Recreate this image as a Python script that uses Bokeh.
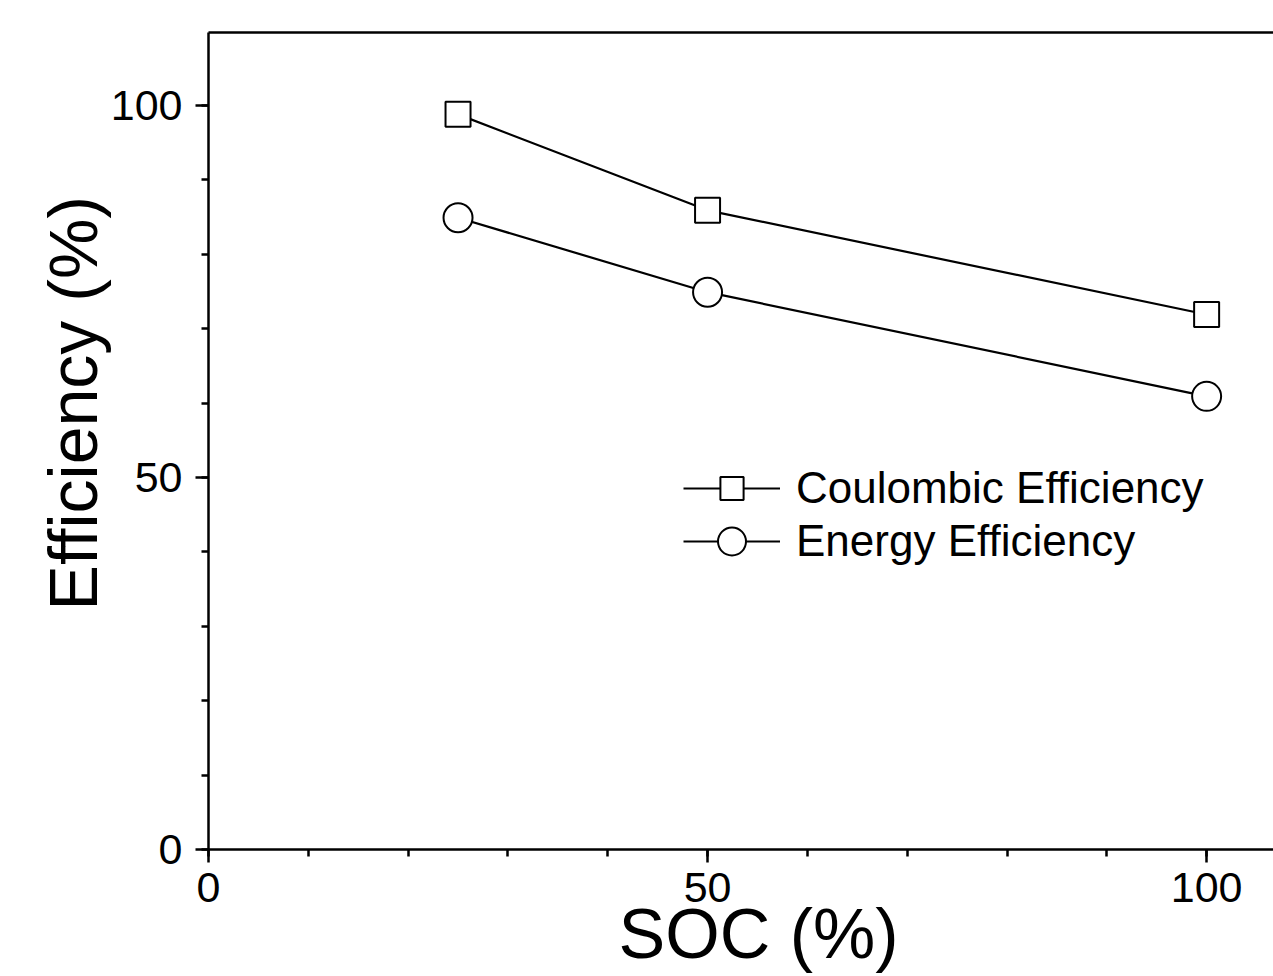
from bokeh.plotting import figure
from bokeh.models import Range1d, SingleIntervalTicker, FixedTicker, LinearAxis, Legend, LegendItem
from bokeh.embed import file_html
from bokeh.resources import INLINE

# ---- data ----
soc = [25, 50, 100]
coulombic = [98.8, 85.9, 71.9]
energy = [84.9, 74.9, 60.9]
series_names = ["Coulombic Efficiency", "Energy Efficiency"]
x_label = "SOC (%)"
y_label = "Efficiency (%)"
x_limits = (0, 106.7)
y_limits = (0, 109.8)
tick_interval = 50
minor_per_major = 5

FONT = "Liberation Sans"
NB = "\u00a0"

p = figure(width=1273, height=976, output_backend="svg", toolbar_location=None,
           x_range=Range1d(*x_limits), y_range=Range1d(*y_limits),
           min_border_left=208, min_border_right=0, min_border_top=32,
           min_border_bottom=127, outline_line_color=None,
           background_fill_color="white", border_fill_color="white")

p.xgrid.visible = False
p.ygrid.visible = False

for ax in (p.xaxis[0], p.yaxis[0]):
    ax.ticker = SingleIntervalTicker(interval=tick_interval, num_minor_ticks=minor_per_major)
    ax.axis_line_width = 2.5
    ax.axis_line_color = "black"
    ax.major_tick_line_width = 2.5
    ax.minor_tick_line_width = 2.5
    ax.major_tick_out = 13
    ax.major_tick_in = 0
    ax.minor_tick_out = 7
    ax.minor_tick_in = 0
    ax.major_label_text_font = FONT
    ax.major_label_text_font_size = "43px"
    ax.major_label_text_color = "black"
    ax.axis_label_text_font = FONT
    ax.axis_label_text_font_style = "normal"
    ax.axis_label_text_color = "black"

p.xaxis[0].major_label_standoff = 10
p.yaxis[0].major_label_standoff = 13

p.xaxis[0].axis_label = "\u2002" + x_label
p.xaxis[0].axis_label_text_font_size = "70px"
p.xaxis[0].axis_label_standoff = -10

p.yaxis[0].axis_label = NB * 4 + y_label
p.yaxis[0].axis_label_text_font_size = "68px"
p.yaxis[0].axis_label_standoff = -3

top = LinearAxis(ticker=FixedTicker(ticks=[]), axis_line_width=2.5, axis_line_color="black",
                 major_tick_out=0, major_tick_in=0, minor_tick_out=0, minor_tick_in=0)
p.add_layout(top, "above")

# ---- series ----
l1 = p.line(soc, coulombic, line_color="black", line_width=2.2)
s1 = p.scatter(soc, coulombic, marker="square", size=25, fill_color="white",
               line_color="black", line_width=2)
l2 = p.line(soc, energy, line_color="black", line_width=2.2)
s2 = p.scatter(soc, energy, marker="circle", size=29, fill_color="white",
               line_color="black", line_width=2)

common = dict(padding=0, margin=0, spacing=0, border_line_color=None,
              background_fill_alpha=0, label_text_font=FONT,
              label_text_font_size="44px", label_text_color="black",
              glyph_width=97, label_standoff=16)
leg1 = Legend(items=[LegendItem(label=series_names[0], renderers=[l1, s1])],
              location=(475, 332), glyph_height=58, label_height=58, **common)
leg2 = Legend(items=[LegendItem(label=series_names[1], renderers=[l2, s2])],
              location=(475, 273), glyph_height=70, label_height=70, **common)
p.add_layout(leg1)
p.add_layout(leg2)

open("out.html", "w").write(file_html(p, INLINE))
